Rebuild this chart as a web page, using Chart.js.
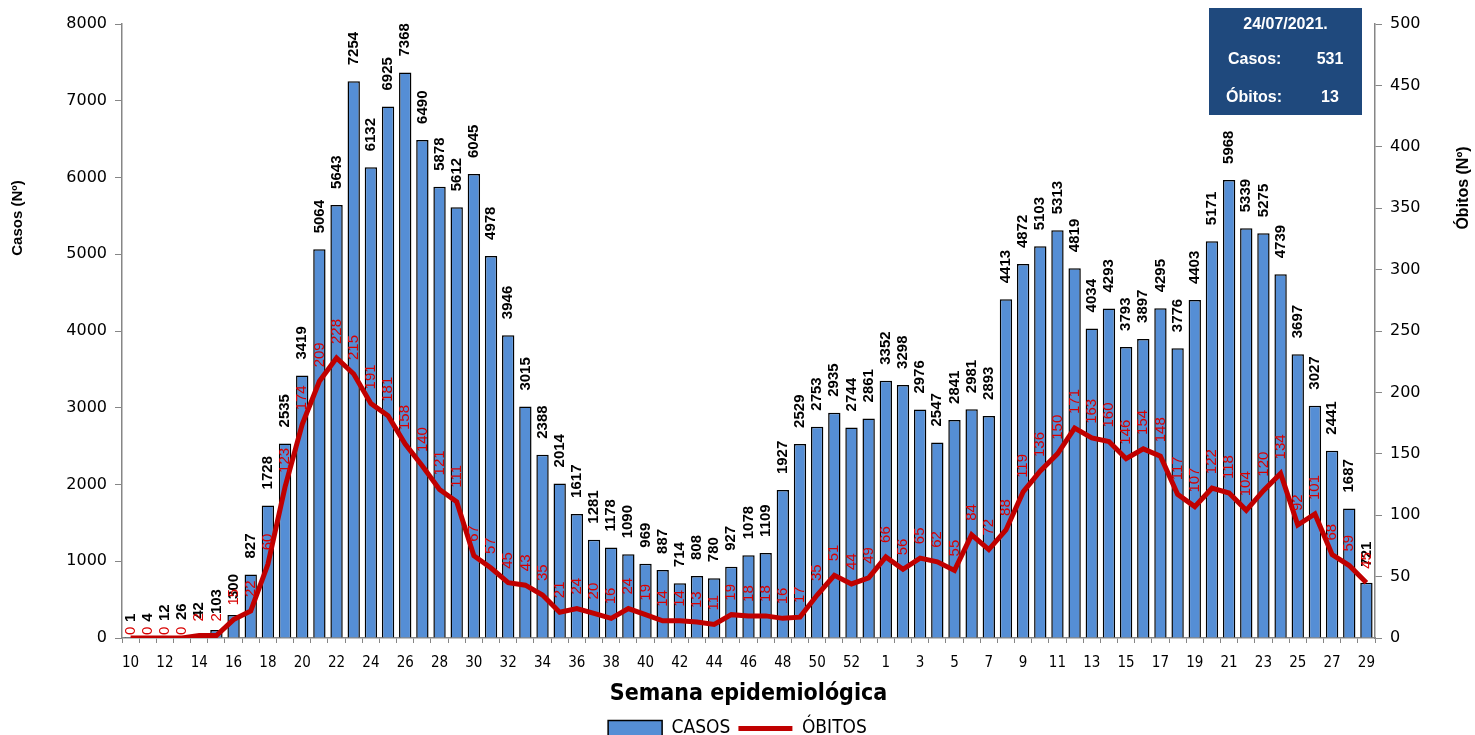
<!DOCTYPE html>
<html>
<head>
<meta charset="utf-8">
<script src="https://cdn.jsdelivr.net/npm/chart.js@4.4.1/dist/chart.umd.min.js"></script>
<style>
html, body { margin: 0; padding: 0; background: #fff; }
</style>
</head>
<body>
<canvas id="myChart" width="1475" height="735"></canvas>
<script>
// semanas epidemiologicas: 10..53 (2020) e 1..29 (2021)
var semanas = ['10','11','12','13','14','15','16','17','18','19','20','21','22','23','24','25','26','27','28','29',
  '30','31','32','33','34','35','36','37','38','39','40','41','42','43','44','45','46','47','48','49',
  '50','51','52','53',
  '1','2','3','4','5','6','7','8','9','10','11','12','13','14','15','16','17','18','19','20',
  '21','22','23','24','25','26','27','28','29'];

var casos = [1, 4, 12, 26, 42, 103, 300, 827, 1728, 2535,
  3419, 5064, 5643, 7254, 6132, 6925, 7368, 6490, 5878, 5612,
  6045, 4978, 3946, 3015, 2388, 2014, 1617, 1281, 1178, 1090,
  969, 887, 714, 808, 780, 927, 1078, 1109, 1927, 2529,
  2753, 2935, 2744, 2861,
  3352, 3298, 2976, 2547, 2841, 2981, 2893, 4413, 4872, 5103,
  5313, 4819, 4034, 4293, 3793, 3897, 4295, 3776, 4403, 5171,
  5968, 5339, 5275, 4739, 3697, 3027, 2441, 1687, 721];

var obitos = [0, 0, 0, 0, 2, 2, 15, 22, 60, 123,
  174, 209, 228, 215, 191, 181, 158, 140, 121, 111,
  67, 57, 45, 43, 35, 21, 24, 20, 16, 24,
  19, 14, 14, 13, 11, 19, 18, 18, 16, 17,
  35, 51, 44, 49,
  66, 56, 65, 62, 55, 84, 72, 88, 119, 136,
  150, 171, 163, 160, 146, 154, 148, 117, 107, 122,
  118, 104, 120, 134, 92, 101, 68, 59, 45];

// quadro do dia
var boxData = '24/07/2021.';
var boxLabels = ['Casos:', 'Óbitos:'];
var boxValues = ['531', '13'];

var NARROW = '"Liberation Sans Narrow", "Arial Narrow", "DejaVu Sans Condensed", "Liberation Sans", sans-serif';
var SANS = '"Liberation Sans", Arial, sans-serif';

function textoRodado(ctx, txt, x, y, font, color) {
  ctx.save();
  ctx.translate(x, y);
  ctx.rotate(-Math.PI / 2);
  ctx.font = font;
  ctx.fillStyle = color;
  ctx.textAlign = 'left';
  ctx.textBaseline = 'middle';
  ctx.fillText(txt, 0, 0);
  ctx.restore();
}

// rotulos dos valores (rodados)
var rotulos = {
  id: 'rotulos',
  afterDatasetsDraw: function (chart) {
    var ctx = chart.ctx;
    chart.getDatasetMeta(0).data.forEach(function (bar, i) {
      textoRodado(ctx, String(casos[i]), bar.x, bar.y - 16, 'bold 15px ' + SANS, '#000');
    });
    chart.getDatasetMeta(1).data.forEach(function (pt, i) {
      var gap = obitos[i] === 0 ? 3 : 14;
      textoRodado(ctx, String(obitos[i]), pt.x, pt.y - gap, '15px ' + SANS, '#D80000');
    });
  }
};

// titulos dos eixos y e quadro azul
var extras = {
  id: 'extras',
  afterDraw: function (chart) {
    var ctx = chart.ctx;
    var a = chart.chartArea;
    ctx.save();
    ctx.font = 'bold 15px ' + SANS;
    ctx.fillStyle = '#000';
    ctx.textAlign = 'center';
    ctx.textBaseline = 'middle';
    ctx.translate(18, 218);
    ctx.rotate(-Math.PI / 2);
    ctx.fillText('Casos (Nº)', 0, 0);
    ctx.restore();

    ctx.save();
    ctx.font = 'bold 16px ' + SANS;
    ctx.fillStyle = '#000';
    ctx.textAlign = 'center';
    ctx.textBaseline = 'middle';
    ctx.translate(1464, 188);
    ctx.rotate(-Math.PI / 2);
    ctx.fillText('Óbitos (Nº)', 0, 0);
    ctx.restore();

    // quadro
    var bx = a.right - 166, by = 8, bw = 153, bh = 107;
    ctx.save();
    ctx.fillStyle = '#1F497D';
    ctx.fillRect(bx, by, bw, bh);
    ctx.fillStyle = '#fff';
    ctx.font = 'bold 16px ' + SANS;
    ctx.textBaseline = 'middle';
    ctx.textAlign = 'center';
    ctx.fillText(boxData, bx + bw / 2, by + 17);
    ctx.textAlign = 'left';
    ctx.fillText(boxLabels[0], bx + 19, by + 52);
    ctx.fillText(boxLabels[1], bx + 17, by + 90);
    ctx.textAlign = 'center';
    ctx.fillText(boxValues[0], bx + 121, by + 52);
    ctx.fillText(boxValues[1], bx + 121, by + 90);
    ctx.restore();
  }
};

var ctx = document.getElementById('myChart');
var myChart = new Chart(ctx, {
  type: 'bar',
  data: {
    labels: semanas,
    datasets: [
      {
        label: 'CASOS',
        data: casos,
        yAxisID: 'y',
        backgroundColor: '#558ED5',
        borderColor: '#000',
        borderWidth: 1.5,
        barPercentage: 0.72,
        categoryPercentage: 1,
        order: 1
      },
      {
        type: 'line',
        label: 'ÓBITOS',
        data: obitos,
        yAxisID: 'y1',
        borderColor: '#C00000',
        backgroundColor: '#C00000',
        borderWidth: 5,
        pointRadius: 0,
        tension: 0,
        order: 0
      }
    ]
  },
  options: {
    responsive: false,
    animation: false,
    devicePixelRatio: 1,
    layout: { padding: { top: 24, left: 0, right: 0, bottom: -13 } },
    plugins: {
      tooltip: { enabled: false },
      legend: {
        position: 'bottom',
        reverse: true,
        labels: {
          usePointStyle: true,
          pointStyleWidth: 54,
          boxHeight: 16,
          padding: 8,
          color: '#000',
          font: { family: NARROW, size: 19 },
          generateLabels: function (chart) {
            var items = Chart.defaults.plugins.legend.labels.generateLabels(chart);
            items.forEach(function (it) {
              it.pointStyle = it.datasetIndex === 1 ? 'line' : 'rect';
            });
            return items;
          }
        }
      }
    },
    scales: {
      x: {
        offset: true,
        afterFit: function (s) { s.height = 73; },
        grid: { offset: true, drawOnChartArea: false, color: '#868686', tickLength: 5 },
        border: { color: '#868686', width: 1.5 },
        ticks: {
          autoSkip: false,
          maxRotation: 0,
          minRotation: 0,
          color: '#000',
          padding: 11,
          font: { family: NARROW, size: 15 },
          callback: function (v, i) { return i % 2 === 0 ? semanas[i] : ''; }
        },
        title: {
          display: true,
          text: 'Semana epidemiológica',
          color: '#000',
          padding: { top: 2, bottom: 3 },
          font: { family: NARROW, size: 23, weight: 'bold' }
        }
      },
      y: {
        position: 'left',
        min: 0,
        max: 8000,
        afterFit: function (s) { s.width = 122; },
        grid: { drawOnChartArea: false, color: '#868686', tickLength: 7 },
        border: { color: '#868686', width: 1.5 },
        ticks: {
          stepSize: 1000, color: '#000', padding: 8,
          font: { family: '"DejaVu Sans", sans-serif', size: 16 },
          callback: function (v) { return String(v); }
        }
      },
      y1: {
        position: 'right',
        min: 0,
        max: 500,
        afterFit: function (s) { s.width = 100; },
        grid: { drawOnChartArea: false, color: '#868686', tickLength: 7 },
        border: { color: '#868686', width: 1.5 },
        ticks: {
          stepSize: 50, color: '#000', padding: 8,
          font: { family: '"DejaVu Sans", sans-serif', size: 16 },
          callback: function (v) { return String(v); }
        }
      }
    }
  },
  plugins: [rotulos, extras]
});
</script>
</body>
</html>
